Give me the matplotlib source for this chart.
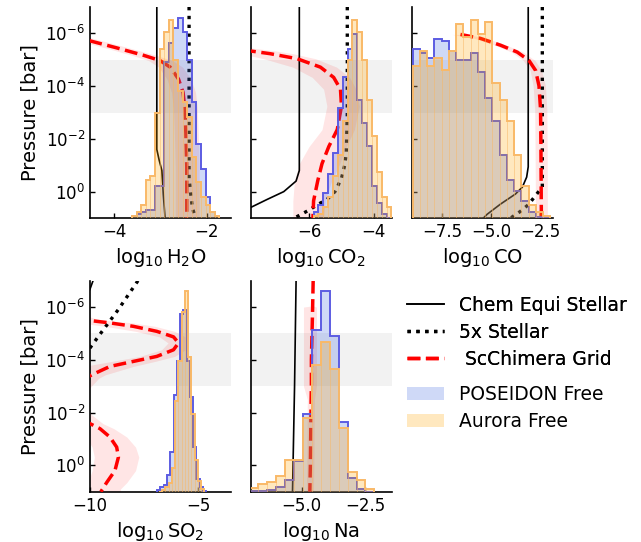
import matplotlib
matplotlib.use("Agg")
import matplotlib.pyplot as plt
import numpy as np
from matplotlib.colors import to_rgba
from matplotlib.lines import Line2D
from matplotlib.patches import Patch
from matplotlib.ticker import FixedLocator, LogFormatterSciNotation, NullLocator

# pressure window shown on every panel (bar) and the shaded photosphere band
p_bottom, p_top = 1e1, 1e-7
band_lo, band_hi = 1e-5, 1e-3

# ---------------- H2O ----------------
h2o_bins = (-3.62, 0.10)          # first edge, bin width
h2o_poseidon = [0.01, 0.02, 0.03, 0.04, 0.04, 0.15, 0.15, 0.74, 0.83, 0.90,
                0.95, 0.88, 0.75, 0.55, 0.35, 0.23, 0.10, 0.03, 0.01]
h2o_aurora = [0.01, 0.03, 0.06, 0.18, 0.20, 0.50, 0.80, 0.88, 0.94, 0.75,
              0.60, 0.55, 0.48, 0.29, 0.17, 0.10, 0.06, 0.03, 0.01]
h2o_eq_logp = [-7.0, -1.6, -1.2, -0.8, 0.1, 1.0]
h2o_eq_x = [-3.08, -3.08, -3.03, -2.97, -2.94, -2.90]
h2o_5x_logp = [-7.0, -0.5, 0.0, 0.6, 1.0]
h2o_5x_x = [-2.38, -2.38, -2.35, -2.31, -2.24]
h2o_grid_logp = [-5.90, -5.75, -5.68, -5.45, -5.17, -4.97, -4.72, -4.27, -3.76, -3.12, -2.22, -0.94, 1.0]
h2o_grid_x = [-4.93, -4.60, -4.45, -3.95, -3.37, -3.01, -2.79, -2.61, -2.51, -2.47, -2.45, -2.43, -2.43]
h2o_grid_lo = [-5.18, -4.85, -4.70, -4.20, -3.62, -3.26, -3.04, -2.86, -2.76, -2.72, -2.70, -2.68, -2.68]
h2o_grid_hi = [-4.66, -4.33, -4.18, -3.68, -3.10, -2.74, -2.52, -2.34, -2.24, -2.20, -2.18, -2.16, -2.16]

# ---------------- CO2 ----------------
co2_bins = (-5.86, 0.15)
co2_poseidon = [0.03, 0.06, 0.12, 0.21, 0.31, 0.52, 0.67, 0.80, 0.87, 0.56,
                0.45, 0.34, 0.15, 0.07, 0.02, 0.0]
co2_aurora = [0.01, 0.02, 0.05, 0.10, 0.20, 0.30, 0.46, 0.75, 0.94, 0.88,
              0.75, 0.56, 0.39, 0.22, 0.10, 0.05]
co2_eq_logp = [-7.0, -0.8, -0.4, 0.0, 0.3, 0.6, 1.0]
co2_eq_x = [-6.30, -6.30, -6.40, -6.78, -7.30, -7.80, -8.40]
co2_5x_logp = [-7.0, -3.0, -1.5, -1.0, -0.5, 0.0, 0.3, 0.5, 0.7, 0.9, 1.0]
co2_5x_x = [-4.82, -4.82, -4.85, -4.90, -5.00, -5.20, -5.45, -5.75, -6.00, -6.30, -6.45]
co2_grid_logp = [-5.45, -5.33, -5.23, -5.04, -4.72, -4.33, -3.88, -3.24, -2.35, -1.71, -1.06, -0.42, 0.35, 1.0]
co2_grid_x = [-8.60, -7.79, -7.20, -6.37, -5.65, -5.24, -5.03, -5.00, -5.13, -5.39, -5.60, -5.73, -5.86, -5.88]
co2_grid_lo = [-9.30, -8.50, -8.10, -7.40, -6.50, -5.90, -5.55, -5.45, -5.60, -6.00, -6.30, -6.45, -6.50, -6.50]
co2_grid_hi = [-7.80, -7.00, -6.50, -5.80, -5.15, -4.75, -4.55, -4.45, -4.60, -4.85, -5.05, -5.30, -5.50, -5.55]

# ---------------- CO ----------------
co_bins = (-9.0, 0.37)
co_poseidon = [0.80, 0.78, 0.76, 0.85, 0.84, 0.79, 0.75, 0.75, 0.78, 0.69,
               0.57, 0.46, 0.30, 0.18, 0.13, 0.08, 0.03, 0.005, 0.0]
co_aurora = [0.72, 0.79, 0.72, 0.76, 0.70, 0.79, 0.92, 0.86, 0.94, 0.87,
             0.93, 0.64, 0.56, 0.46, 0.30, 0.15, 0.06, 0.03, 0.01]
co_eq_logp = [-7.0, -0.94, -0.55, -0.17, 0.09, 0.47, 0.86, 1.05]
co_eq_x = [-3.10, -3.10, -3.18, -3.40, -3.75, -4.51, -5.20, -5.45]
co_5x_logp = [-7.0, -0.17, 0.03, 0.22, 0.50, 0.76, 0.96, 1.1]
co_5x_x = [-2.38, -2.38, -2.60, -2.80, -3.10, -3.52, -3.92, -4.20]
co_grid_logp = [-5.96, -5.81, -5.55, -5.29, -4.97, -4.59, -4.01, -3.12, -1.58, 0.86, 1.0]
co_grid_x = [-6.56, -5.54, -4.51, -3.66, -3.06, -2.72, -2.55, -2.47, -2.45, -2.43, -2.43]
co_grid_lo = [-7.00, -5.85, -4.80, -3.95, -3.35, -3.00, -2.85, -2.77, -2.75, -2.73, -2.73]
co_grid_hi = [-6.20, -5.20, -4.20, -3.35, -2.75, -2.42, -2.22, -2.15, -2.13, -2.12, -2.12]

# ---------------- SO2 ----------------
so2_bins_poseidon = (-6.90, 0.15)
so2_bins_aurora = (-6.83, 0.15)
so2_poseidon = [0.01, 0.02, 0.03, 0.08, 0.19, 0.46, 0.62, 0.84, 0.86, 0.62,
                0.45, 0.21, 0.06, 0.02, 0.005]
so2_aurora = [0.0, 0.01, 0.02, 0.04, 0.11, 0.43, 0.62, 0.85, 0.95, 0.64,
              0.37, 0.15, 0.05, 0.015]
so2_eq_logp = [-7.0, -6.68, -6.0, -5.0]
so2_eq_x = [-9.86, -10.0, -10.4, -11.0]
so2_5x_logp = [-7.0, -5.9, -4.87, -4.45, -4.0]
so2_5x_x = [-7.79, -8.70, -9.63, -10.0, -10.4]
so2_grid_logp = [-5.70, -5.55, -5.49, -5.40, -5.27, -5.08, -4.87, -4.64, -4.38, -4.13, -3.94, -3.75,
                 -3.43, -3.30, -2.50, -1.90, -1.58, -1.39, -1.07, -0.69, -0.31, 0.20, 0.65, 0.90, 1.0]
so2_grid_x = [-11.5, -10.4, -10.0, -9.08, -8.00, -6.92, -6.15, -5.92, -6.15, -6.92, -8.00, -9.08,
              -9.92, -10.2, -11.5, -10.6, -10.0, -9.54, -9.08, -8.77, -8.69, -8.85, -9.23, -9.42, -9.50]
so2_grid_lo = [-12.5, -11.5, -11.2, -10.5, -9.30, -7.90, -6.80, -6.40, -6.70, -7.70, -9.00, -10.3,
               -11.0, -11.5, -12.5, -11.5, -11.0, -10.6, -10.2, -9.90, -9.80, -9.90, -10.1, -10.2, -10.2]
so2_grid_hi = [-10.3, -9.70, -9.20, -8.00, -7.00, -6.10, -5.60, -5.50, -5.60, -6.10, -7.00, -8.00,
               -9.30, -9.60, -10.5, -9.90, -9.40, -8.90, -8.30, -7.90, -7.75, -7.90, -8.30, -8.60, -8.60]

# ---------------- Na ----------------
na_bins = (-7.05, 0.35)
na_poseidon = [0.003, 0.005, 0.01, 0.02, 0.054, 0.146, 0.37, 0.765, 0.95, 0.74,
               0.33, 0.067, 0.011, 0.0]
na_aurora = [0.019, 0.038, 0.048, 0.075, 0.15, 0.15, 0.35, 0.60, 0.71, 0.58,
             0.30, 0.095, 0.054, 0.011]
na_eq_logp = [-7.0, -3.0, 1.0]
na_eq_x = [-5.22, -5.28, -5.36]
na_grid_logp = [-7.0, -6.05, -6.0, -4.0, -3.0, -2.5, 0.0, 1.0]
na_grid_x = [-4.55, -4.57, -4.57, -4.62, -4.62, -4.63, -4.66, -4.68]
na_grid_lo = [-4.55, -4.57, -4.93, -4.93, -4.93, -4.78, -4.80, -4.82]
na_grid_hi = [-4.55, -4.57, -4.42, -4.42, -4.42, -4.50, -4.52, -4.54]

blue_fill, blue_edge = "royalblue", "#5c5ce2"
orange_fill, orange_edge = "orange", "#f9b968"


def stairs_hist(ax, bins, heights, fill, edge, bars=False):
    start, width = bins
    edges = start + width * np.arange(len(heights) + 1)
    if bars:
        ax.bar(edges[:-1], heights, width=width, align="edge",
               facecolor=to_rgba(fill, 0.25), edgecolor=to_rgba(edge, 0.3), linewidth=0.7)
    else:
        ax.stairs(heights, edges, fill=True, color=to_rgba(fill, 0.25), linewidth=0)
    ax.stairs(heights, edges, color=edge, linewidth=1.4)


def panel(ax, name, xlim, xticks, hist_p, hist_a, eq, x5, grid, first_col):
    ax.set_yscale("log")
    ax.set_ylim(p_bottom, p_top)
    ax.set_xlim(*xlim)
    ax.axhspan(band_lo, band_hi, color="0.5", alpha=0.1, lw=0, zorder=0)

    glogp, gx, glo, ghi = grid
    gp = 10.0 ** np.array(glogp)
    ax.fill_betweenx(gp, glo, ghi, color="red", alpha=0.1, lw=0, zorder=1)
    if eq is not None:
        ax.plot(eq[1], 10.0 ** np.array(eq[0]), color="black", lw=1.2, zorder=2)
    if x5 is not None:
        ax.plot(x5[1], 10.0 ** np.array(x5[0]), color="black", lw=2.4, ls=":", zorder=2)
    ax.plot(gx, gp, color="red", lw=2.5, ls="--", zorder=3)

    ax.spines[["top", "right"]].set_visible(False)
    for s in ("left", "bottom"):
        ax.spines[s].set_linewidth(1.2)
    ax.tick_params(direction="in", labelsize=12, width=1.0)
    ax.yaxis.set_major_locator(FixedLocator([1e-6, 1e-4, 1e-2, 1e0]))
    ax.yaxis.set_minor_locator(NullLocator())
    ax.set_xticks(xticks)
    if first_col:
        ax.yaxis.set_major_formatter(LogFormatterSciNotation())
        ax.set_ylabel("Pressure [bar]", fontsize=14)
    else:
        ax.tick_params(labelleft=False)
    ax.set_xlabel(r"$\log_{10}\mathrm{" + name + "}$", fontsize=14)

    # histograms on a hidden twin axis, drawn above the profiles
    ah = ax.twinx()
    ah.set_ylim(0, 1)
    ah.axis("off")
    stairs_hist(ah, hist_p[0], hist_p[1], blue_fill, blue_edge)
    stairs_hist(ah, hist_a[0], hist_a[1], orange_fill, orange_edge, bars=True)


fig = plt.figure(figsize=(6.41, 5.42), dpi=100)
W, H = 641, 542
lefts = [90, 250.7, 411.7]
tops = [7, 280.7]
aw, ah_ = 141, 211


def make_ax(col, row):
    return fig.add_axes([lefts[col] / W, 1 - (tops[row] + ah_) / H, aw / W, ah_ / H])


panel(make_ax(0, 0), "H_2O", (-4.53, -1.47), [-4, -2],
      (h2o_bins, h2o_poseidon), (h2o_bins, h2o_aurora),
      (h2o_eq_logp, h2o_eq_x), (h2o_5x_logp, h2o_5x_x),
      (h2o_grid_logp, h2o_grid_x, h2o_grid_lo, h2o_grid_hi), True)
panel(make_ax(1, 0), "CO_2", (-7.8, -3.45), [-6, -4],
      (co2_bins, co2_poseidon), (co2_bins, co2_aurora),
      (co2_eq_logp, co2_eq_x), (co2_5x_logp, co2_5x_x),
      (co2_grid_logp, co2_grid_x, co2_grid_lo, co2_grid_hi), False)
panel(make_ax(2, 0), "CO", (-9.05, -1.85), [-7.5, -5.0, -2.5],
      (co_bins, co_poseidon), (co_bins, co_aurora),
      (co_eq_logp, co_eq_x), (co_5x_logp, co_5x_x),
      (co_grid_logp, co_grid_x, co_grid_lo, co_grid_hi), False)
panel(make_ax(0, 1), "SO_2", (-10.0, -3.5), [-10, -5],
      (so2_bins_poseidon, so2_poseidon), (so2_bins_aurora, so2_aurora),
      (so2_eq_logp, so2_eq_x), (so2_5x_logp, so2_5x_x),
      (so2_grid_logp, so2_grid_x, so2_grid_lo, so2_grid_hi), True)
panel(make_ax(1, 1), "Na", (-7.0, -1.47), [-5.0, -2.5],
      (na_bins, na_poseidon), (na_bins, na_aurora),
      (na_eq_logp, na_eq_x), None,
      (na_grid_logp, na_grid_x, na_grid_lo, na_grid_hi), False)

line_handles = [
    Line2D([], [], color="black", lw=1.2),
    Line2D([], [], color="black", lw=2.4, ls=":"),
    Line2D([], [], color="red", lw=2.5, ls="--"),
]
line_labels = ["Chem Equi Stellar", "5x Stellar", " ScChimera Grid"]
patch_handles = [Patch(facecolor=to_rgba(blue_fill, 0.25), lw=0),
                 Patch(facecolor=to_rgba(orange_fill, 0.25), lw=0)]
patch_labels = ["POSEIDON Free", "Aurora Free"]

leg_kw = dict(loc="upper left", frameon=False, fontsize=13.5, handlelength=2.0,
              labelspacing=0.43)
leg1 = fig.legend(line_handles, line_labels, bbox_to_anchor=(390 / W, 1 - 279 / H), **leg_kw)
fig.add_artist(leg1)
fig.legend(patch_handles, patch_labels, bbox_to_anchor=(390 / W, 1 - 368 / H), **leg_kw)

fig.savefig("out.png", dpi=100)
